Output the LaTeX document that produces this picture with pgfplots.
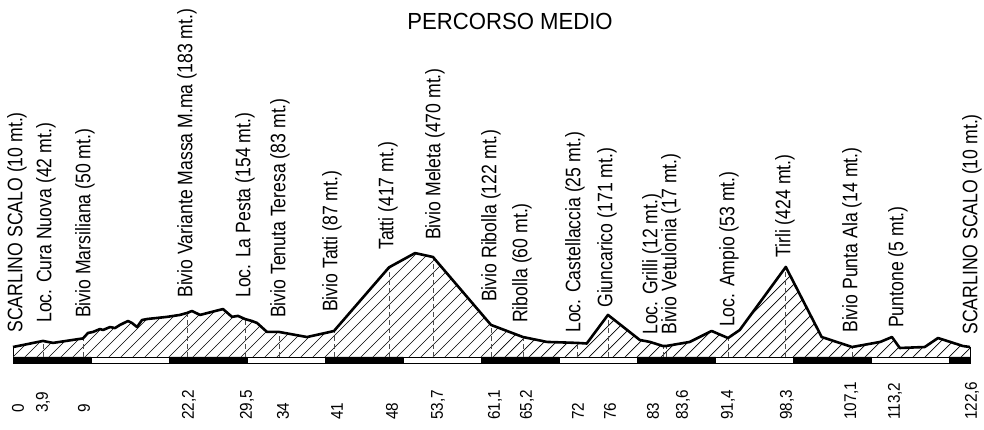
\documentclass[border=0pt]{standalone}
\usepackage{fontspec}
\setmainfont{Liberation Sans}
\newfontfamily\lblfont[FakeStretch=0.84]{Liberation Sans}
\newfontfamily\tickfont[FakeStretch=0.9]{Liberation Sans}
\newfontfamily\titlefont[FakeStretch=0.95]{Liberation Sans}
\usepackage{pgfplots}
\pgfplotsset{compat=1.18}
\usetikzlibrary{patterns}
\pgfdeclarepatternformonly{hatchNE}{\pgfqpoint{-1pt}{-1pt}}{\pgfqpoint{13pt}{13pt}}{\pgfqpoint{12pt}{12pt}}{%
  \pgfsetlinewidth{0.7pt}\pgfpathmoveto{\pgfqpoint{0pt}{0pt}}\pgfpathlineto{\pgfqpoint{12.1pt}{12.1pt}}\pgfusepath{stroke}}
\tikzset{
  lbl/.style={rotate=90, anchor=west, inner sep=0pt, font={\lblfont\fontsize{21}{24}\selectfont}},
  tck/.style={rotate=90, anchor=west, inner sep=0pt, font={\tickfont\fontsize{17}{20}\selectfont}},
  dl/.style={draw=black!70, line width=0.8pt, dash pattern=on 5pt off 3pt},
}
\begin{document}
\begin{tikzpicture}
\begin{axis}[at={(13pt,73pt)}, anchor=south west, scale only axis,
  width=957pt, height=100pt, xmin=0, xmax=122.6, ymin=-41, ymax=470,
  hide axis, clip=false]
% hatched area
\addplot[draw=none, pattern=hatchNE, pattern color=black] coordinates {
(0,-41) (0,10) (3.84,41) (5.12,31) (8.97,54) (9.61,82) (10.25,87) (11.15,102) (11.53,97)
(12.43,112) (13.07,107) (13.71,123) (14.73,143) (15.24,133) (15.89,112) (16.53,148)
(17.17,153) (19.73,164) (21.39,174) (22.29,184) (22.93,194) (23.96,174) (26.9,204)
(28.06,164) (28.82,169) (29.72,153) (30.6,143) (31.26,133) (32.54,87) (34.08,87)
(37.66,61) (40.6,87) (41.12,92) (48.17,417) (51.5,490) (53.8,470) (61.23,123)
(65.33,61) (68.4,36) (72.25,31) (73.5,28) (76.22,174) (80.3,46) (81.6,36) (83.27,15)
(83.65,15) (86.7,36) (89.5,92) (91.6,56) (93.1,97) (99.0,419) (103.6,61) (107.5,10)
(111.1,36) (112.6,61) (113.6,5) (116.8,10) (118.5,56) (121.7,15) (122.6,10) (122.6,-41)};
% dashed lines
\addplot[dl] coordinates {(3.84,-41) (3.84,41)};
\addplot[dl] coordinates {(8.97,-41) (8.97,54)};
\addplot[dl] coordinates {(22.29,-41) (22.29,184)};
\addplot[dl] coordinates {(29.72,-41) (29.72,153)};
\addplot[dl] coordinates {(34.08,-41) (34.08,87)};
\addplot[dl] coordinates {(41.12,-41) (41.12,92)};
\addplot[dl] coordinates {(48.17,-41) (48.17,417)};
\addplot[dl] coordinates {(53.8,-41) (53.8,470)};
\addplot[dl] coordinates {(61.23,-41) (61.23,123)};
\addplot[dl] coordinates {(65.33,-41) (65.33,61)};
\addplot[dl] coordinates {(72.25,-41) (72.25,31)};
\addplot[dl] coordinates {(76.22,-41) (76.22,174)};
\addplot[dl] coordinates {(83.27,-41) (83.27,15)};
\addplot[dl] coordinates {(83.65,-41) (83.65,15)};
\addplot[dl] coordinates {(91.6,-41) (91.6,56)};
\addplot[dl] coordinates {(99.0,-41) (99.0,419)};
\addplot[dl] coordinates {(107.5,-41) (107.5,10)};
% end verticals
\addplot[black, line width=0.9pt] coordinates {(0,-41) (0,10)};
\addplot[black, line width=0.9pt] coordinates {(122.6,-41) (122.6,10)};
% profile line
\addplot[black, line width=2.6pt, line join=round] coordinates {
(0,10) (3.84,41) (5.12,31) (8.97,54) (9.61,82) (10.25,87) (11.15,102) (11.53,97)
(12.43,112) (13.07,107) (13.71,123) (14.73,143) (15.24,133) (15.89,112) (16.53,148)
(17.17,153) (19.73,164) (21.39,174) (22.29,184) (22.93,194) (23.96,174) (26.9,204)
(28.06,164) (28.82,169) (29.72,153) (30.6,143) (31.26,133) (32.54,87) (34.08,87)
(37.66,61) (40.6,87) (41.12,92) (48.17,417) (51.5,490) (53.8,470) (61.23,123)
(65.33,61) (68.4,36) (72.25,31) (73.5,28) (76.22,174) (80.3,46) (81.6,36) (83.27,15)
(83.65,15) (86.7,36) (89.5,92) (91.6,56) (93.1,97) (99.0,419) (103.6,61) (107.5,10)
(111.1,36) (112.6,61) (113.6,5) (116.8,10) (118.5,56) (121.7,15) (122.6,10)};
% distance bar
\addplot[draw=black, fill=white, line width=0.9pt] coordinates {(0,-41) (122.6,-41) (122.6,-71.7) (0,-71.7) (0,-41)};
\addplot[draw=black, fill=black, line width=0.9pt] coordinates {(0,-41) (10,-41) (10,-71.7) (0,-71.7) (0,-41)};
\addplot[draw=black, fill=black, line width=0.9pt] coordinates {(20,-41) (30,-41) (30,-71.7) (20,-71.7) (20,-41)};
\addplot[draw=black, fill=black, line width=0.9pt] coordinates {(40,-41) (50,-41) (50,-71.7) (40,-71.7) (40,-41)};
\addplot[draw=black, fill=black, line width=0.9pt] coordinates {(60,-41) (70,-41) (70,-71.7) (60,-71.7) (60,-41)};
\addplot[draw=black, fill=black, line width=0.9pt] coordinates {(80,-41) (90,-41) (90,-71.7) (80,-71.7) (80,-41)};
\addplot[draw=black, fill=black, line width=0.9pt] coordinates {(100,-41) (110,-41) (110,-71.7) (100,-71.7) (100,-41)};
\addplot[draw=black, fill=black, line width=0.9pt] coordinates {(120,-41) (122.6,-41) (122.6,-71.7) (120,-71.7) (120,-41)};
% place labels
\node[lbl] at (axis cs:0.51,82) {SCARLINO SCALO (10 mt.)};
\node[lbl] at (axis cs:4.23,133) {Loc. Cura Nuova (42 mt.)};
\node[lbl] at (axis cs:9.22,158) {Bivio Marsiliana (50 mt.)};
\node[lbl] at (axis cs:22.29,261) {Bivio Variante Massa M.ma (183 mt.)};
\node[lbl] at (axis cs:29.72,261) {Loc. La Pesta (154 mt.)};
\node[lbl] at (axis cs:34.2,158) {Bivio Tenuta Teresa (83 mt.)};
\node[lbl] at (axis cs:40.87,189) {Bivio Tatti (87 mt.)};
\node[lbl] at (axis cs:48.04,506) {Tatti (417 mt.)};
\node[lbl] at (axis cs:54.06,557) {Bivio Meleta (470 mt.)};
\node[lbl] at (axis cs:61.23,240) {Bivio Ribolla (122 mt.)};
\node[lbl] at (axis cs:65.2,133) {Ribolla (60 mt.)};
\node[lbl] at (axis cs:72.0,82) {Loc. Castellaccia (25 mt.)};
\node[lbl] at (axis cs:76.1,210) {Giuncarico (171 mt.)};
\node[lbl] at (axis cs:81.86,72) {Loc. Grilli (12 mt.)};
\node[lbl] at (axis cs:84.3,72) {Bivio Vetulonia (17 mt.)};
\node[lbl] at (axis cs:91.72,112) {Loc. Ampio (53 mt.)};
\node[lbl] at (axis cs:98.9,465) {Tirli (424 mt.)};
\node[lbl] at (axis cs:107.48,82) {Bivio Punta Ala (14 mt.)};
\node[lbl] at (axis cs:113.37,107) {Puntone (5 mt.)};
\node[lbl] at (axis cs:122.85,72) {SCARLINO SCALO (10 mt.)};
% km labels
\node[tck] at (axis cs:0.64,-327) {0};
\node[tck] at (axis cs:3.84,-327) {3,9};
\node[tck] at (axis cs:9.1,-327) {9};
\node[tck] at (axis cs:22.55,-363) {22,2};
\node[tck] at (axis cs:29.98,-363) {29,5};
\node[tck] at (axis cs:34.59,-363) {34};
\node[tck] at (axis cs:41.5,-363) {41};
\node[tck] at (axis cs:48.55,-363) {48};
\node[tck] at (axis cs:54.45,-363) {53,7};
\node[tck] at (axis cs:61.75,-363) {61,1};
\node[tck] at (axis cs:65.85,-363) {65,2};
\node[tck] at (axis cs:72.38,-363) {72};
\node[tck] at (axis cs:76.48,-363) {76};
\node[tck] at (axis cs:81.99,-363) {83};
\node[tck] at (axis cs:85.83,-363) {83,6};
\node[tck] at (axis cs:91.6,-363) {91,4};
\node[tck] at (axis cs:99.15,-363) {98,3};
\node[tck] at (axis cs:107.4,-363) {107,1};
\node[tck] at (axis cs:113.0,-363) {113,2};
\node[tck] at (axis cs:122.85,-363) {122,6};
% title
\node[anchor=base, inner sep=0pt, font={\titlefont\fontsize{23.3}{26}\selectfont}] at (axis cs:63.67,1630) {PERCORSO MEDIO};
\end{axis}
\pgfresetboundingbox
\path (0,0) rectangle (984pt,430pt);
\end{tikzpicture}
\end{document}
